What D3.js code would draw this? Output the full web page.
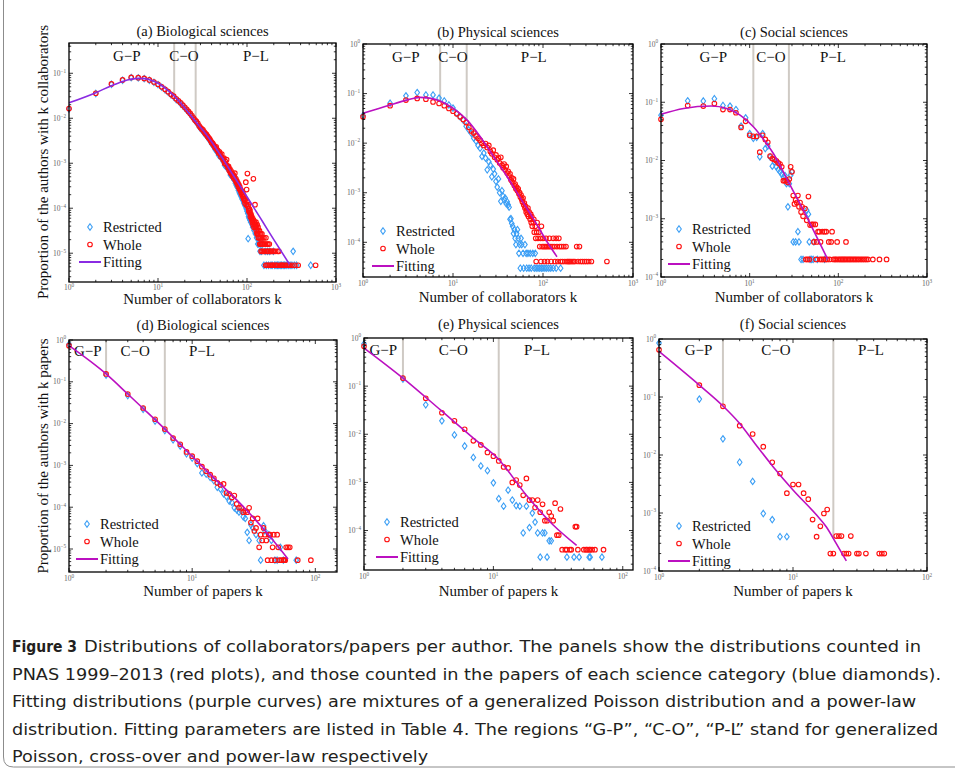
<!DOCTYPE html>
<html><head><meta charset="utf-8">
<script src="https://cdn.jsdelivr.net/npm/d3@7"></script>
<style>body{margin:0;background:#fff}svg{display:block}</style>
</head><body>
<script>
// ---------------- DATA ----------------
// each point: [k, proportion]
const aWhole=[[1,0.0164],[2,0.036],[3,0.058],[4,0.071],[5,0.081],[6,0.080],[7,0.077],[8,0.071],[9,0.064],[10,0.057],
[11,0.050],[12,0.044],[13,0.039],[14,0.034],[15,0.031],[16,0.027],[17,0.0245],[18,0.022],[19,0.0195],[20,0.0175],
[21,0.0158],[22,0.0142],[23,0.0128],[24,0.0115],[25,0.0102],[26,0.0092],[27,0.0085],[28,0.0077],[29,0.0068],[30,0.0062],
[31,0.0058],[32,0.0055],[33,0.0050],[34,0.0046],[35,0.0044],[36,0.0040],[37,0.0037],[38,0.0035],[39,0.0032],[40,0.0029],
[41,0.0028],[42,0.0026],[43,0.0024],[44,0.0022],[45,0.0023],[46,0.0020],[47,0.0019],[48,0.0017],[49,0.0018],[50,0.0016],
[51,0.0014],[52,0.0016],[53,0.0013],[54,0.0012],[55,0.0013],[56,0.0010],[57,0.0011],[58,0.00095],[59,0.0012],[60,0.00088],
[61,0.00080],[62,0.00085],[63,0.00070],[64,0.00075],[65,0.00062],[66,0.00068],[67,0.00058],[68,0.00060],[69,0.00052],[70,0.00056],
[71,0.00047],[72,0.00050],[73,0.00060],[74,0.00042],[75,0.00045],[76,0.00038],[77,0.00040],[78,0.00034],[79,0.00036],[80,0.00030],
[81,0.00033],[82,0.00027],[83,0.00030],[84,0.00025],[85,0.00026],[86,0.00022],[87,0.00024],[88,0.00020],[89,0.00022],[90,0.00018],
[91,0.00020],[92,0.00016],[93,0.00018],[94,0.00015],[95,0.00013],[96,0.00016],[97,0.00038],[98,0.00012],[99,0.00026],[100,0.00014],
[101,0.00059],[102,0.00011],[103,0.00012],[104,0.00010],[105,0.000086],[106,0.000097],[107,0.000080],[108,0.000090],[109,0.000065],[110,0.000076],
[111,0.000070],[112,0.000059],[113,0.000065],[114,0.000054],[115,0.000049],[116,0.000059],[117,0.000043],[118,0.00045],[119,0.000054],[120,0.000038],
[121,0.000049],[122,0.000043],[123,0.00012],[124,0.000038],[125,0.000043],[126,0.000049],[127,0.000032],[128,0.000038],[129,0.000027],[130,0.000043],
[131,0.000032],[132,0.000027],[133,0.000038],[134,0.000022],[135,0.000032],[136,0.000027],[137,0.000022],[138,0.000032],[139,0.000016],[140,0.000027],
[141,0.000022],[142,0.000016],[143,0.000027],[144,0.000011],[145,0.000022],[146,0.000016],[147,0.000027],[148,0.000011],[149,0.000016],[150,0.000022],
[152,0.000016],[153,0.000011],[155,0.000022],[157,0.000016],[158,0.000011],[160,0.000016],[162,0.0000054],[163,0.000022],[165,0.000011],[167,0.000016],
[168,0.0000054],[170,0.000011],[172,0.000016],[173,0.0000054],[175,0.000011],[178,0.000016],[180,0.0000054],[182,0.000011],[185,0.000011],[187,0.0000054],
[190,0.000011],[193,0.0000054],[196,0.000011],[198,0.0000054],[201,0.000011],[205,0.0000054],[210,0.000011],[214,0.0000054],[218,0.0000054],[222,0.000011],
[228,0.000011],[233,0.0000054],[240,0.0000054],[246,0.0000054],[252,0.0000054],[260,0.0000054],[270,0.0000054],[280,0.0000054],[290,0.0000054],[300,0.0000054],
[320,0.0000054],[345,0.0000054],[376,0.0000054],[590,0.0000054]];
const aRestricted=[[1,0.0160],[2,0.0355],[3,0.057],[4,0.070],[5,0.080],[6,0.079],[7,0.076],[8,0.070],[9,0.063],[10,0.056],
[11,0.049],[12,0.043],[13,0.038],[14,0.033],[15,0.030],[16,0.026],[17,0.024],[18,0.021],[19,0.019],[20,0.017],
[21,0.0152],[22,0.0138],[23,0.0124],[24,0.0111],[25,0.0099],[26,0.0089],[27,0.0082],[28,0.0074],[29,0.0065],[30,0.0060],
[31,0.0055],[32,0.0052],[33,0.0047],[34,0.0044],[35,0.0041],[36,0.0038],[37,0.0035],[38,0.0033],[39,0.0030],[40,0.0027],
[41,0.0026],[42,0.0024],[43,0.0022],[44,0.0020],[45,0.0021],[46,0.0018],[47,0.0017],[48,0.0015],[49,0.0016],[50,0.0014],
[52,0.0013],[54,0.0011],[55,0.0011],[56,0.00090],[58,0.00085],[60,0.00078],[62,0.00072],[64,0.00065],[65,0.00055],[66,0.00058],
[68,0.00050],[70,0.00047],[72,0.00042],[73,0.00050],[74,0.00036],[76,0.00032],[78,0.00029],[80,0.00025],[82,0.00022],[84,0.00020],
[86,0.00018],[88,0.00016],[90,0.00015],[92,0.00013],[94,0.00012],[96,0.00011],[98,0.000097],[100,0.000086],[102,0.000076],[103,0.000021],
[104,0.000065],[106,0.000059],[108,0.000054],[110,0.000049],[112,0.000054],[114,0.000043],[116,0.000038],[118,0.000043],[120,0.000032],[122,0.000038],
[124,0.000027],[126,0.000032],[128,0.000022],[130,0.000027],[132,0.000016],[134,0.000022],[136,0.000016],[138,0.000022],[140,0.000011],[143,0.000016],
[146,0.000011],[150,0.000016],[155,0.0000054],[160,0.000011],[165,0.0000054],[170,0.000011],[175,0.0000054],[180,0.000011],[186,0.0000054],[192,0.0000054],
[198,0.000011],[205,0.0000054],[212,0.0000054],[220,0.0000054],[228,0.0000054],[236,0.0000054],[245,0.0000054],[255,0.0000054],[265,0.0000054],[275,0.0000054],
[290,0.0000054],[305,0.0000054],[320,0.0000054],[330,0.000011],[340,0.0000054],[361,0.0000054],[520,0.0000054]];
const aFit=[[1,0.022],[2,0.037],[3,0.053],[4,0.066],[5,0.074],[6,0.077],[7,0.076],[8,0.072],[10,0.060],[12,0.047],[15,0.032],[20,0.017],[26.5,0.0084],[35,0.0043],[46,0.002],[70,0.00054],[100,0.00018],[150,0.00005],[200,0.00002],[300,0.0000057]];

const bWhole=[[1,0.034],[2,0.057],[3,0.074],[4,0.080],[5,0.077],[6,0.068],[7,0.063],[8,0.057],[9,0.050],[10,0.044],
[11,0.039],[12,0.034],[13,0.030],[14,0.026],[15,0.021],[16,0.0175],[17,0.0160],[18,0.0140],[19,0.0125],[20,0.0115],
[21,0.0100],[22,0.0090],[23,0.0098],[24,0.0082],[25,0.0090],[26,0.0068],[27,0.0061],[28,0.0072],[29,0.0052],[30,0.0058],
[31,0.0046],[32,0.0050],[33,0.0040],[34,0.0052],[35,0.0036],[36,0.0032],[37,0.0038],[38,0.0029],[39,0.0034],[40,0.0025],
[41,0.0027],[42,0.0022],[43,0.0024],[44,0.0018],[45,0.0020],[46,0.0016],[47,0.0019],[48,0.0014],[49,0.0015],[50,0.0012],
[51,0.0013],[52,0.0011],[53,0.0012],[54,0.00095],[55,0.0010],[56,0.00082],[57,0.00090],[58,0.00074],[59,0.00066],[60,0.00078],
[61,0.00057],[62,0.00062],[63,0.00049],[64,0.00053],[65,0.00041],[66,0.00045],[67,0.00037],[68,0.00049],[69,0.00033],[70,0.00041],
[72,0.00029],[73,0.00037],[74,0.00025],[75,0.00033],[76,0.00021],[78,0.00025],[79,0.00029],[80,0.00016],[82,0.00021],[83,0.00012],
[84,0.000041],[85,0.00016],[86,0.00025],[88,0.00012],[90,0.00016],[92,0.000082],[94,0.00012],[95,0.000041],[96,0.00021],[98,0.000082],
[100,0.00012],[102,0.000082],[104,0.000041],[106,0.000082],[108,0.00012],[110,0.000082],[112,0.000041],[115,0.000082],[118,0.00012],[120,0.000082],
[123,0.000041],[126,0.000082],[130,0.00012],[133,0.000082],[136,0.000041],[140,0.00012],[143,0.000082],[146,0.000041],[150,0.00012],[153,0.000082],
[157,0.000041],[161,0.000082],[165,0.000041],[170,0.000082],[175,0.000041],[180,0.000082],[185,0.000041],[190,0.000041],[196,0.000041],[202,0.000041],
[210,0.000041],[218,0.000041],[226,0.000041],[237,0.000082],[245,0.000041],[254,0.000082],[262,0.000041],[275,0.000041],[290,0.000041],[305,0.000041],
[322,0.000041],[345,0.000041],[513,0.000041]];
const bRestricted=[[1,0.036],[2,0.064],[3,0.090],[4,0.105],[5,0.094],[6,0.094],[7,0.081],[8,0.071],[9,0.059],[10,0.051],
[11,0.040],[12,0.034],[13,0.029],[14,0.022],[15,0.0185],[16,0.0158],[17,0.0126],[18,0.0110],[19,0.0090],[20,0.0079],
[21,0.0054],[22,0.0063],[23,0.0050],[24,0.0029],[25,0.0042],[26,0.0036],[27,0.0021],[28,0.0030],[29,0.0024],[30,0.0017],
[31,0.0013],[32,0.0019],[33,0.0010],[34,0.00067],[35,0.0011],[36,0.00085],[37,0.00072],[38,0.00078],[39,0.00060],[40,0.00066],
[41,0.00057],[42,0.00051],[43,0.00029],[44,0.00030],[45,0.00024],[46,0.00021],[47,0.00015],[48,0.00018],[49,0.00012],[50,0.000090],
[51,0.00015],[52,0.00018],[53,0.00012],[54,0.000060],[55,0.000090],[56,0.000030],[57,0.00012],[58,0.000090],[60,0.000060],[61,0.000030],
[63,0.000090],[65,0.000060],[66,0.000030],[68,0.000060],[70,0.000030],[72,0.000060],[74,0.000030],[77,0.000060],[80,0.000030],[82,0.000060],
[84,0.000030],[88,0.000030],[92,0.000030],[96,0.000030],[100,0.000030],[105,0.000030],[110,0.000030],[116,0.000030],[122,0.000030],[130,0.000030],
[140,0.000030],[157,0.000030]];
const bFit=[[1,0.040],[2,0.059],[3,0.073],[4.3,0.084],[5.5,0.081],[7.2,0.071],[10,0.051],[14.3,0.0295],[20,0.0136],[28,0.0055],[40,0.0021],[56,0.00078],[79,0.00029],[110,0.000105],[143,0.000051]];

const cWhole=[[1,0.051],[2,0.088],[3,0.086],[4,0.095],[5,0.075],[6,0.075],[7,0.066],[8,0.037],[9,0.047],[10,0.027],
[11,0.026],[12,0.026],[13,0.0139],[14,0.027],[15,0.023],[16,0.0205],[17,0.0119],[18,0.0108],[19,0.0104],[20,0.0099],
[21,0.0091],[22,0.0087],[23,0.0078],[24,0.0045],[25,0.0045],[26,0.0045],[27,0.0042],[28,0.0048],[29,0.0078],[30,0.0064],
[31,0.0025],[32,0.0018],[33,0.0021],[34,0.0019],[35,0.0025],[36,0.0016],[37,0.0019],[38,0.0013],[39,0.0016],[40,0.0011],
[42,0.0015],[43,0.0002],[44,0.00094],[45,0.0002],[46,0.0024],[47,0.0002],[48,0.00078],[50,0.0008],[52,0.0008],[53,0.0004],
[55,0.0008],[56,0.0002],[57,0.0004],[59,0.0006],[61,0.0006],[62,0.0002],[63,0.0004],[65,0.0002],[66,0.0006],[68,0.0002],
[70,0.0006],[72,0.0002],[73,0.0006],[75,0.0002],[78,0.0004],[80,0.0002],[83,0.0004],[85,0.0006],[88,0.0002],[92,0.0002],
[95,0.0002],[97,0.0004],[100,0.0002],[104,0.0002],[108,0.0002],[112,0.0002],[116,0.0002],[120,0.0002],[122,0.0004],[125,0.0002],
[130,0.0002],[135,0.0002],[140,0.0002],[146,0.0002],[152,0.0002],[158,0.0002],[165,0.0002],[172,0.0002],[180,0.0002],[188,0.0002],
[197,0.0002],[206,0.0002],[216,0.0002],[245,0.0002],[291,0.0002],[350,0.0002]];
const cRestricted=[[1,0.060],[2,0.106],[3,0.105],[4,0.115],[5,0.088],[6,0.086],[7,0.075],[8,0.039],[9,0.054],[10,0.029],
[11,0.024],[12,0.025],[13,0.0116],[14,0.029],[15,0.016],[16,0.0177],[17,0.0115],[18,0.0080],[19,0.0095],[20,0.0078],
[21,0.0070],[22,0.0064],[23,0.0058],[24,0.0052],[25,0.0055],[26,0.0040],[27,0.0016],[28,0.0040],[29,0.0056],[30,0.0064],
[31,0.0004],[33,0.0004],[35,0.0006],[36,0.0004],[38,0.0002],[40,0.0002],[44,0.0014],[46,0.0012],[47,0.0004],[48,0.0002],
[50,0.0002],[52,0.0002],[53,0.0004],[58,0.0002],[70,0.0002]];
const cFit=[[1,0.062],[1.8,0.078],[3.7,0.086],[5.5,0.078],[7.8,0.060],[11,0.038],[15.5,0.0196],[18.5,0.0132],[28,0.004],[44,0.00108],[76,0.0002]];

const dWhole=[[1,0.73],[2,0.154],[3,0.051],[4,0.0236],[5,0.0127],[6,0.0074],[7,0.0045],[8,0.0032],[9,0.0021],[10,0.00166],
[11,0.00126],[12,0.00093],[13,0.00072],[14,0.00060],[15,0.00049],[16,0.00038],[17,0.00034],[18,0.00036],[19,0.00022],[20,0.00021],
[21,0.00017],[22,0.00019],[23,0.00012],[24,0.000097],[25,0.000097],[26,0.000076],[27,0.000081],[28,0.000076],[29,0.000097],[30,0.000043],
[31,0.000054],[32,0.000027],[33,0.000032],[34,0.000054],[35,0.000011],[36,0.000022],[37,0.000016],[38,0.000032],[39,0.000022],[40,0.000016],
[41,0.0000054],[42,0.000022],[43,0.000022],[44,0.0000054],[45,0.000011],[46,0.000022],[47,0.0000054],[49,0.000022],[50,0.000011],[51,0.0000054],
[53,0.0000054],[55,0.0000054],[56,0.0000054],[57,0.0000054],[58,0.000011],[60,0.000011],[62,0.000011],[72,0.0000054],[92,0.0000054]];
const dRestricted=[[1,0.79],[2,0.145],[3,0.047],[4,0.022],[5,0.0115],[6,0.0068],[7,0.0041],[8,0.0029],[9,0.0019],[10,0.0015],
[11,0.0011],[12,0.00066],[13,0.00062],[14,0.00052],[15,0.00043],[16,0.00030],[17,0.00027],[18,0.00021],[19,0.00018],[20,0.00014],
[21,0.00013],[22,0.000097],[23,0.000086],[24,0.000076],[25,0.000081],[26,0.000059],[27,0.000054],[28,0.000025],[29,0.000016],[30,0.000038],
[31,0.000032],[33,0.000022],[35,0.000016],[36,0.0000054],[38,0.000036],[39,0.000027],[42,0.000022],[44,0.000016],[47,0.0000054],[49,0.0000054],
[52,0.000011],[55,0.0000054],[70,0.0000054]];
const dFit=[[1,0.73],[2,0.154],[3,0.051],[4,0.023],[6,0.0074],[10,0.00166],[16,0.00042],[23,0.00015],[38,0.00003],[60,0.0000058]];

const eWhole=[[1,0.67],[2,0.147],[3,0.056],[4,0.028],[5,0.019],[6,0.0127],[7,0.0073],[8,0.0060],[9,0.0042],[10,0.0035],
[11,0.0028],[12,0.0021],[13,0.0020],[14,0.0010],[15,0.00112],[16,0.00088],[17,0.00054],[18,0.00121],[19,0.00043],[20,0.00043],
[21,0.00030],[22,0.00043],[23,0.00024],[24,0.00035],[25,0.00016],[26,0.00016],[27,0.00024],[28,0.00020],[29,0.00016],[30,0.00037],
[31,0.00008],[32,0.00008],[33,0.00028],[34,0.00004],[36,0.00004],[37,0.00004],[39,0.00004],[40,0.00004],[43,0.00012],[44,0.00012],
[45,0.00004],[50,0.00004],[52,0.00004],[53,0.00004],[55,0.00004],[56,0.00004],[58,0.00004],[61,0.00004],[71,0.00004]];
const eRestricted=[[1,0.75],[2,0.14],[3,0.041],[4,0.019],[5,0.0097],[6,0.0057],[7,0.0033],[8,0.0022],[9,0.00175],[10,0.00098],
[11,0.00046],[12,0.00032],[13,0.00069],[14,0.00043],[15,0.00033],[16,0.00032],[17,0.000089],[18,0.00032],[19,0.000115],[20,0.00023],
[21,0.00015],[22,0.000089],[23,0.000028],[24,0.000089],[25,0.000089],[26,0.000028],[27,0.000061],[28,0.000061],[37,0.000028],[42,0.000028],
[46,0.000028],[55,0.000028],[56,0.000028],[69,0.000028]];
const eFit=[[1,0.62],[2,0.147],[3.9,0.032],[7,0.0083],[11,0.003],[18,0.00054],[29,0.00013],[44,0.000049]];

const fWhole=[[1,0.65],[2,0.16],[3,0.069],[4,0.032],[5,0.023],[6,0.0139],[7,0.0075],[8,0.0048],[9,0.0022],[10,0.0031],
[11,0.0031],[12,0.0022],[13,0.00173],[14,0.00077],[15,0.00039],[16,0.00059],[17,0.00098],[18,0.00115],[19,0.0002],[20,0.0002],
[21,0.0004],[22,0.0004],[23,0.0004],[24,0.0002],[25,0.0002],[26,0.0002],[27,0.0004],[30,0.0002],[31,0.0002],[35,0.0002],
[44,0.0002],[46,0.0002],[48,0.0002]];
const fRestricted=[[1,0.85],[2,0.092],[3,0.019],[4,0.0075],[5,0.0035],[6,0.00098],[7,0.00077],[8,0.00039],[9,0.00039]];
const fFit=[[1,0.61],[2,0.16],[3,0.07],[4,0.035],[5.3,0.0149],[7.1,0.0063],[10,0.0025],[15,0.00092],[17.7,0.00058],[21,0.0003],[25,0.00015]];

// region boundaries (k) and region-label centres (k)
const regionNames=["G\u2212P","C\u2212O","P\u2212L"];
const aBounds=[15.2,26.5], bBounds=[7.2,14.2], cBounds=[11,27.7], dBounds=[2,6], eBounds=[2,11], fBounds=[3,20];
const aLabelK=[4.45,19.6,126], bLabelK=[2.99,10,79], cLabelK=[3.89,17.4,87], dLabelK=[1.42,3.44,12], eLabelK=[1.41,4.9,21.7], fLabelK=[1.97,7.46,38.2];

const titles=["(a) Biological sciences","(b) Physical sciences","(c) Social sciences","(d) Biological sciences","(e) Physical sciences","(f) Social sciences"];
const xLabels=["Number of collaborators k","Number of collaborators k","Number of collaborators k","Number of papers k","Number of papers k","Number of papers k"];
const yLabels=["Proportion of the authors with k collaborators","Proportion of the authors with k papers"];
const legendNames=["Restricted","Whole","Fitting"];

const captionBold="Figure 3";
const captionLines=["Distributions of collaborators/papers per author. The panels show the distributions counted in",
"PNAS 1999\u20132013 (red plots), and those counted in the papers of each science category (blue diamonds).",
"Fitting distributions (purple curves) are mixtures of a generalized Poisson distribution and a power-law",
"distribution. Fitting parameters are listed in Table 4. The regions \u201cG-P\u201d, \u201cC-O\u201d, \u201cP-L\u201d stand for generalized",
"Poisson, cross-over and power-law respectively"];

// ---------------- LAYOUT ----------------
const W=955,H=773;
const layout=[
 {box:[69,43,336,282], xDom:[1,1000], yExp:[-5.64,-0.327], legend:[90,227], fitColor:"#8a2be2", xlabY:304, titleDy:7, regDy:18},
 {box:[363,44,633,277], xDom:[1,1000], yExp:[-4.70,0], legend:[383,231], fitColor:"#bb10c0", xlabY:302, titleDy:7, regDy:18},
 {box:[661,44,927,277], xDom:[1,1000], yExp:[-4,0], legend:[679,229], fitColor:"#bb10c0", xlabY:302, titleDy:7, regDy:18},
 {box:[69,340,337,572], xDom:[1,150], yExp:[-5.55,0], legend:[87,524], fitColor:"#bb10c0", xlabY:596, titleDy:10, regDy:16},
 {box:[364,338,633,570], xDom:[1,120], yExp:[-4.82,0], legend:[387,522], fitColor:"#bb10c0", xlabY:596, titleDy:9, regDy:17},
 {box:[659,339,927,571], xDom:[1,100], yExp:[-4,0], legend:[679,526], fitColor:"#bb10c0", xlabY:596, titleDy:10, regDy:16}
];
const series=[
 {w:aWhole,r:aRestricted,f:aFit,b:aBounds,lk:aLabelK},
 {w:bWhole,r:bRestricted,f:bFit,b:bBounds,lk:bLabelK},
 {w:cWhole,r:cRestricted,f:cFit,b:cBounds,lk:cLabelK},
 {w:dWhole,r:dRestricted,f:dFit,b:dBounds,lk:dLabelK},
 {w:eWhole,r:eRestricted,f:eFit,b:eBounds,lk:eLabelK},
 {w:fWhole,r:fRestricted,f:fFit,b:fBounds,lk:fLabelK}
];

const SERIF="'Liberation Serif','Times New Roman',serif";
const BLUE="#3a9ef5", RED="#ff1010";
const diamond="M0,-3.2L2.3,0L0,3.2L-2.3,0Z";

const svg=d3.select("body").append("svg").attr("width",W).attr("height",H).style("background","#fff");

function fitAt(fit,k){
  for(let i=0;i<fit.length-1;i++){
    const [k0,p0]=fit[i],[k1,p1]=fit[i+1];
    if(k>=k0&&k<=k1){const t=(Math.log(k)-Math.log(k0))/(Math.log(k1)-Math.log(k0));
      return Math.exp(Math.log(p0)+t*(Math.log(p1)-Math.log(p0)));}
  }
  return fit[fit.length-1][1];
}
function supLabel(sel,exp){
  sel.append("tspan").text("10");
  sel.append("tspan").attr("dy",-3.2).attr("font-size",5.2).text(exp<0?"\u2212"+(-exp):String(exp));
}

layout.forEach((L,i)=>{
  const S=series[i];
  const [x0,y0,x1,y1]=L.box;
  const xs=d3.scaleLog().domain(L.xDom).range([x0,x1]);
  const ys=d3.scaleLog().domain([Math.pow(10,L.yExp[0]),Math.pow(10,L.yExp[1])]).range([y1,y0]);
  const g=svg.append("g");

  S.b.forEach(k=>{
    g.append("line").attr("x1",xs(k)).attr("x2",xs(k)).attr("y1",y0).attr("y2",ys(fitAt(S.f,k)))
     .attr("stroke","#cfcac4").attr("stroke-width",2);
  });
  S.lk.forEach((k,j)=>{
    g.append("text").attr("x",xs(k)).attr("y",y0+L.regDy).attr("text-anchor","middle")
     .attr("font-family",SERIF).attr("font-size",15).attr("fill","#111").text(regionNames[j]);
  });

  g.append("g").selectAll("path").data(S.r).enter().append("path")
   .attr("d",diamond).attr("transform",d=>`translate(${xs(d[0])},${ys(d[1])})`)
   .attr("fill","none").attr("stroke",BLUE).attr("stroke-width",1.1);
  g.append("g").selectAll("circle").data(S.w).enter().append("circle")
   .attr("cx",d=>xs(d[0])).attr("cy",d=>ys(d[1])).attr("r",2.3)
   .attr("fill","none").attr("stroke",RED).attr("stroke-width",1.1);
  g.append("path").datum(S.f)
   .attr("d",d3.line().x(d=>xs(d[0])).y(d=>ys(d[1])).curve(d3.curveMonotoneX))
   .attr("fill","none").attr("stroke",L.fitColor).attr("stroke-width",1.6);

  const tk=g.append("g").attr("stroke","#000").attr("stroke-width",0.8);
  const lx0=Math.log10(L.xDom[0]), lx1=Math.log10(L.xDom[1]);
  for(let n=Math.floor(lx0);n<=Math.ceil(lx1);n++){
    for(let m=1;m<10;m++){
      const v=m*Math.pow(10,n); const lv=Math.log10(v);
      if(lv<lx0-1e-9||lv>lx1+1e-9) continue;
      const len=m===1?4:2.2, x=xs(v);
      tk.append("line").attr("x1",x).attr("x2",x).attr("y1",y1).attr("y2",y1-len);
      tk.append("line").attr("x1",x).attr("x2",x).attr("y1",y0).attr("y2",y0+len);
      if(m===1){
        g.append("text").attr("x",x).attr("y",y1+(i===0?8:9)).attr("text-anchor","middle")
         .attr("font-family",SERIF).attr("font-size",7.5).attr("fill","#666").call(s=>supLabel(s,n));
      }
    }
  }
  for(let n=Math.floor(L.yExp[0]);n<=Math.ceil(L.yExp[1]);n++){
    for(let m=1;m<10;m++){
      const v=m*Math.pow(10,n); const lv=Math.log10(v);
      if(lv<L.yExp[0]-1e-9||lv>L.yExp[1]+1e-9) continue;
      const len=m===1?4:2.2, y=ys(v);
      tk.append("line").attr("x1",x0).attr("x2",x0+len).attr("y1",y).attr("y2",y);
      tk.append("line").attr("x1",x1).attr("x2",x1-len).attr("y1",y).attr("y2",y);
      if(m===1){
        g.append("text").attr("x",x0-3).attr("y",y+2.5).attr("text-anchor","end")
         .attr("font-family",SERIF).attr("font-size",7.5).attr("fill","#666").call(s=>supLabel(s,n));
      }
    }
  }
  g.append("rect").attr("x",x0).attr("y",y0).attr("width",x1-x0).attr("height",y1-y0)
   .attr("fill","none").attr("stroke","#000").attr("stroke-width",1.3);

  g.append("text").attr("x",(x0+x1)/2).attr("y",y0-L.titleDy).attr("text-anchor","middle")
   .attr("font-family",SERIF).attr("font-size",14.5).attr("fill","#111").text(titles[i]);
  g.append("text").attr("x",(x0+x1)/2).attr("y",L.xlabY).attr("text-anchor","middle")
   .attr("font-family",SERIF).attr("font-size",15).attr("fill","#111").text(xLabels[i]);

  const [mx,my]=L.legend, dy=17.5;
  g.append("path").attr("d",diamond).attr("transform",`translate(${mx},${my})`).attr("fill","none").attr("stroke",BLUE).attr("stroke-width",1.1);
  g.append("circle").attr("cx",mx).attr("cy",my+dy).attr("r",2.3).attr("fill","none").attr("stroke",RED).attr("stroke-width",1.1);
  g.append("line").attr("x1",mx-11).attr("x2",mx+11).attr("y1",my+2*dy).attr("y2",my+2*dy).attr("stroke",L.fitColor).attr("stroke-width",2);
  legendNames.forEach((t,j)=>{
    g.append("text").attr("x",mx+13).attr("y",my+j*dy+5).attr("font-family",SERIF).attr("font-size",14.5).attr("fill","#111").text(t);
  });
});

[[48,162],[48,456]].forEach((p,j)=>{
  svg.append("text").attr("transform",`translate(${p[0]},${p[1]}) rotate(-90)`).attr("text-anchor","middle")
   .attr("font-family",SERIF).attr("font-size",15).attr("fill","#111").text(yLabels[j]);
});

svg.append("path").attr("d","M3.5,0V757Q3.5,767 13.5,767H955").attr("fill","none").attr("stroke","#8c8c8c").attr("stroke-width",1);

const CAP="'DejaVu Sans Condensed','Liberation Sans Narrow','Open Sans',sans-serif";
const capG=svg.append("g").attr("font-family",CAP).attr("font-size",16.5).attr("fill","#231f20");
const capY=[652,679.5,707,734.5,762];
const bold=capG.append("text").attr("x",12).attr("y",capY[0]).attr("font-weight","bold").text(captionBold);
const regs=captionLines.map((t,j)=>capG.append("text").attr("x",j===0?84:12).attr("y",capY[j]).text(t));
const nat=regs.map(t=>t.node().getComputedTextLength());
const fct=929/nat[1];
regs.forEach((t,j)=>t.attr("textLength",j===0?837:nat[j]*fct).attr("lengthAdjust","spacingAndGlyphs"));
bold.attr("textLength",65).attr("lengthAdjust","spacingAndGlyphs");
</script>
</body></html>
